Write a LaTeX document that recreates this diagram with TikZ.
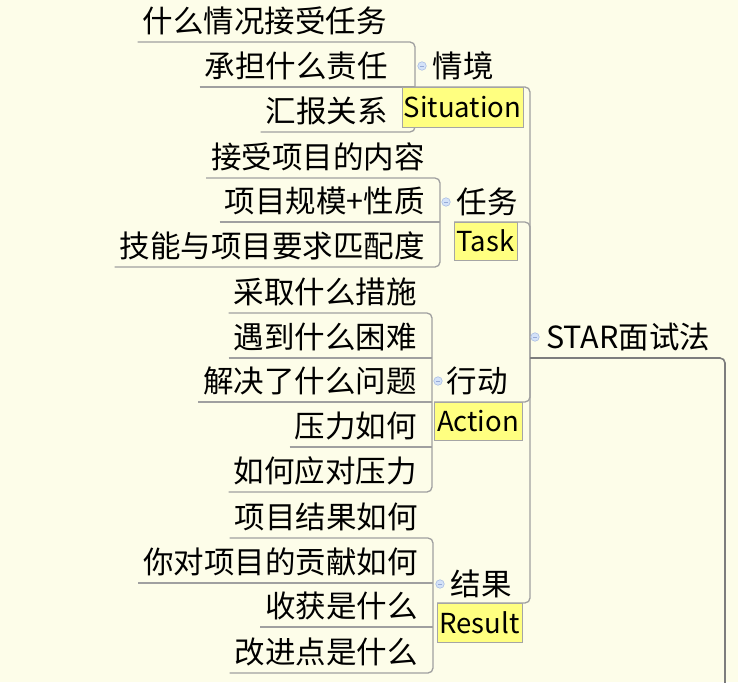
\documentclass[tikz,border=0pt]{standalone}
\usepackage{fontspec}
\setmainfont{Noto Sans CJK SC}
\definecolor{bgcol}{RGB}{253,253,233}
\definecolor{linegray}{RGB}{160,160,160}
\definecolor{darkline}{RGB}{125,125,125}
\definecolor{labfill}{RGB}{255,255,128}
\definecolor{labborder}{RGB}{165,165,165}
\definecolor{foldfill}{RGB}{212,226,248}
\definecolor{foldline}{RGB}{170,190,228}
\definecolor{foldminus}{RGB}{150,170,215}
\newcommand\tfont{\fontsize{30.5pt}{36pt}\selectfont}
\newcommand\lfont{\fontsize{27.5pt}{32pt}\selectfont}
\tikzset{
  leaf/.style={anchor=south east, inner xsep=5pt, inner ysep=0pt, text height=22pt, text depth=9.2pt, font=\tfont},
  topic/.style={anchor=base west, inner sep=0pt, font=\tfont},
  lab/.style={draw=labborder, line width=0.8pt, fill=labfill, inner sep=0pt, font=\lfont},
  conn/.style={draw=linegray, line width=1.3pt, rounded corners=5pt},
  rootline/.style={draw=darkline, line width=1.6pt, rounded corners=5pt},
  fold/.style={circle, draw=foldline, line width=0.6pt, fill=foldfill, minimum size=8.5pt, inner sep=0pt,
    path picture={\draw[foldminus, line width=0.7pt] ([xshift=-2pt]path picture bounding box.center) -- ([xshift=2pt]path picture bounding box.center);}}
}
\begin{document}
\begin{tikzpicture}[x=1pt,y=-1pt]
\useasboundingbox (0,0) rectangle (738,682);
\fill[bgcol] (0,0) rectangle (738,682);

% junction coordinates
\coordinate (rj) at (530,358);
\coordinate (sj) at (415,66);
\coordinate (tj) at (440,202);
\coordinate (aj) at (432,381);
\coordinate (xj) at (433,584);
\coordinate (rend) at (725,684);

% leaves
\node[leaf] (s1) at (392,42) {什么情况接受任务};
\node[leaf] (s2) at (393,87) {承担什么责任};
\node[leaf] (s3) at (393,132) {汇报关系};
\node[leaf] (t1) at (430,178) {接受项目的内容};
\node[leaf] (t2) at (430,222) {项目规模+性质};
\node[leaf] (t3) at (430,267) {技能与项目要求匹配度};
\node[leaf] (a1) at (422,313) {采取什么措施};
\node[leaf] (a2) at (422,358) {遇到什么困难};
\node[leaf] (a3) at (422,402) {解决了什么问题};
\node[leaf] (a4) at (422,447) {压力如何};
\node[leaf] (a5) at (422,492) {如何应对压力};
\node[leaf] (x1) at (423,538) {项目结果如何};
\node[leaf] (x2) at (423,583) {你对项目的贡献如何};
\node[leaf] (x3) at (423,627) {收获是什么};
\node[leaf] (x4) at (423,673) {改进点是什么};

% topics
\node[topic] (sp) at (432.5,77.6) {情境};
\node[topic] (tp) at (456.5,213.6) {任务};
\node[topic] (ap) at (446.5,392.6) {行动};
\node[topic] (xp) at (450.5,595.6) {结果};
\node[topic] (root) at (546,348.6) {STAR面试法};

% leaf connectors
\draw[conn] (s1.south west) -- (s1.south -| sj) -- (s3.south -| sj) -- (s3.south west);
\draw[conn] (s2.south west) -- (s2.south -| sj);
\draw[conn] (t1.south west) -- (t1.south -| tj) -- (t3.south -| tj) -- (t3.south west);
\draw[conn] (t2.south west) -- (t2.south -| tj);
\draw[conn] (a1.south west) -- (a1.south -| aj) -- (a5.south -| aj) -- (a5.south west);
\draw[conn] (a2.south west) -- (a2.south -| aj);
\draw[conn] (a3.south west) -- (a3.south -| aj);
\draw[conn] (a4.south west) -- (a4.south -| aj);
\draw[conn] (x1.south west) -- (x1.south -| xj) -- (x4.south -| xj) -- (x4.south west);
\draw[conn] (x2.south west) -- (x2.south -| xj);
\draw[conn] (x3.south west) -- (x3.south -| xj);

% root connectors
\coordinate (slt) at (402,87);
\coordinate (tlt) at (454,222);
\coordinate (alt) at (434,402);
\coordinate (xlt) at (437,603);
\draw[conn] (slt) -- (slt -| rj) -- (rj);
\draw[conn] (tlt) -- (tlt -| rj) -- (rj);
\draw[conn] (alt) -- (alt -| rj) -- (rj);
\draw[conn] (xlt) -- (xlt -| rj) -- (rj);
\draw[rootline] (rj) -- (rj -| rend) -- (rend);

% labels
\node[lab, minimum width=121pt, minimum height=40pt] (sl) at (462.5,107) {Situation};
\node[lab, minimum width=63pt, minimum height=38pt] (tl) at (485.5,241) {Task};
\node[lab, minimum width=88pt, minimum height=38pt] (al) at (478,421) {Action};
\node[lab, minimum width=85pt, minimum height=39pt] (xl) at (479.5,622.5) {Result};

% fold markers
\node[fold] (sf) at (422,66) {};
\node[fold] (tf) at (446,202) {};
\node[fold] (af) at (438,381) {};
\node[fold] (xf) at (440,584) {};
\node[fold] (rf) at (535,337) {};
\end{tikzpicture}
\end{document}
